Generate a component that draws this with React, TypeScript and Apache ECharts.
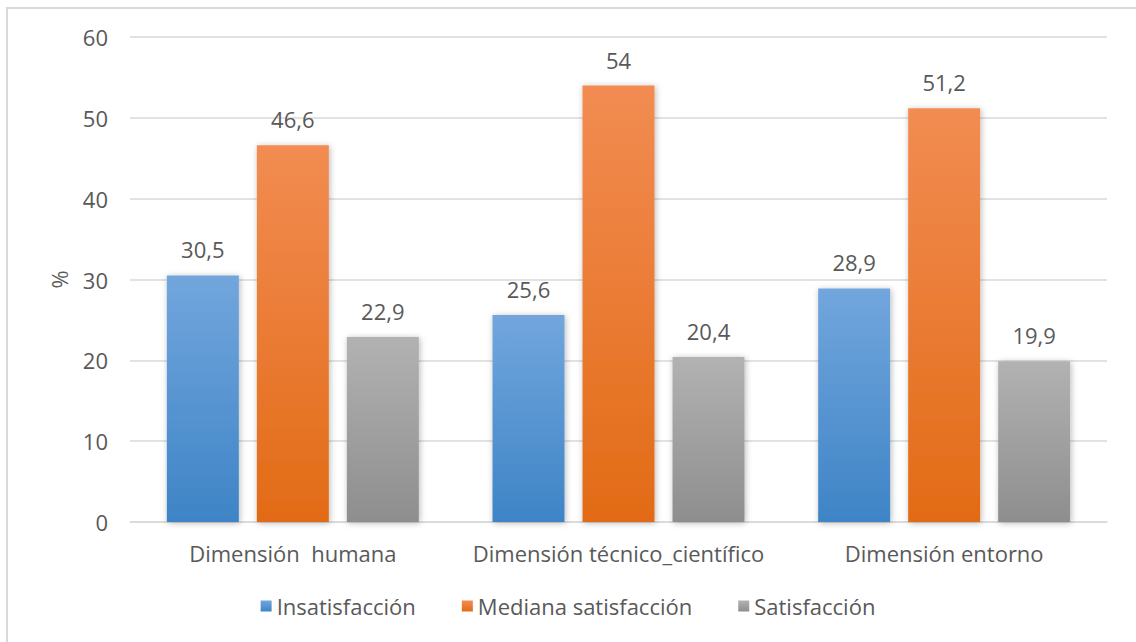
import React, { useEffect, useRef } from "react";
import * as echarts from "echarts";

const categories = ["Dimensión  humana", "Dimensión técnico_científico", "Dimensión entorno"];
const insatisfaccion = [30.5, 25.6, 28.9];
const mediana = [46.6, 54, 51.2];
const satisfaccion = [22.9, 20.4, 19.9];
const yTicks = { min: 0, max: 60, interval: 10 };

const FONT = "'Open Sans', 'Noto Sans', sans-serif";
const TEXT = "#595959";
const FS = 22;

const grad = (top: string, bottom: string) =>
  new echarts.graphic.LinearGradient(0, 0, 0, 1, [
    { offset: 0, color: top },
    { offset: 1, color: bottom },
  ]);

const fmt = (p: any) => String(p.value).replace(".", ",");

const barSeries = (name: string, data: number[], top: string, bottom: string, solid: string) => ({
  name,
  type: "bar",
  data,
  barWidth: 72,
  barGap: "25%",
  color: solid,
  itemStyle: {
    color: grad(top, bottom),
    shadowBlur: 6,
    shadowColor: "rgba(0,0,0,0.28)",
    shadowOffsetX: 1,
    shadowOffsetY: 1,
  },
  label: {
    show: true,
    position: "top",
    distance: 15,
    formatter: fmt,
    color: TEXT,
    fontFamily: FONT,
    fontSize: FS,
  },
});

export default function App() {
  const ref = useRef<HTMLDivElement>(null);
  useEffect(() => {
    const chart = echarts.init(ref.current!, null, { renderer: "svg" });
    chart.setOption({
      animation: false,
      backgroundColor: "#ffffff",
      textStyle: { fontFamily: FONT },
      graphic: [
        {
          type: "rect",
          shape: { x: 7, y: 8, width: 1140, height: 650 },
          style: { fill: "none", stroke: "#d9d9d9", lineWidth: 2 },
          silent: true,
        },
      ],
      grid: { left: 130, right: 29, top: 37, bottom: 120 },
      legend: {
        bottom: 20,
        left: "center",
        itemWidth: 11,
        itemHeight: 11,
        itemGap: 46,
        icon: "rect",
        textStyle: { color: TEXT, fontFamily: FONT, fontSize: FS },
        data: ["Insatisfacción", "Mediana satisfacción", "Satisfacción"],
      },
      xAxis: {
        type: "category",
        data: categories,
        axisLine: { lineStyle: { color: "#d9d9d9", width: 1.5 } },
        axisTick: { show: false },
        axisLabel: { color: TEXT, fontFamily: FONT, fontSize: FS, margin: 20, interval: 0 },
      },
      yAxis: {
        type: "value",
        min: yTicks.min,
        max: yTicks.max,
        interval: yTicks.interval,
        name: "%",
        nameLocation: "middle",
        nameGap: 60,
        nameRotate: 90,
        nameTextStyle: { color: TEXT, fontFamily: FONT, fontSize: FS },
        axisLine: { show: false },
        axisTick: { show: false },
        axisLabel: { color: TEXT, fontFamily: FONT, fontSize: FS, margin: 22 },
        splitLine: { lineStyle: { color: "#d9d9d9", width: 1.5 } },
      },
      series: [
        barSeries("Insatisfacción", insatisfaccion, "#72a6dd", "#3e84c6", "#4a8fd3"),
        barSeries("Mediana satisfacción", mediana, "#f28c52", "#e26b16", "#ed7d31"),
        barSeries("Satisfacción", satisfaccion, "#b2b2b2", "#8e8e8e", "#a5a5a5"),
      ],
    });
    return () => chart.dispose();
  }, []);
  return (
    <div
      ref={ref}
      style={{ position: "fixed", left: 0, top: 0, width: 1136, height: 642 }}
    />
  );
}
